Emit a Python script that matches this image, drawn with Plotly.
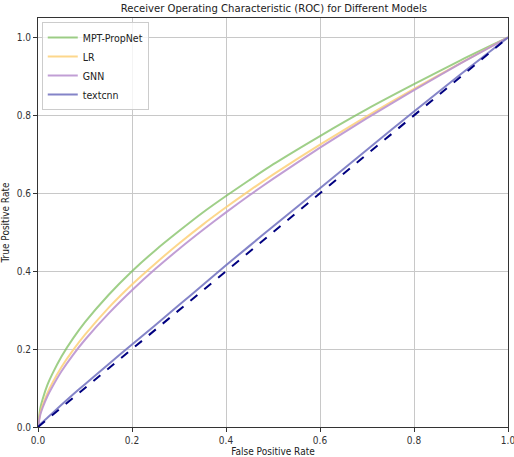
import plotly.graph_objects as go

fpr = [0, 0.005, 0.01, 0.02, 0.03, 0.05, 0.075, 0.1, 0.15, 0.2, 0.25, 0.3, 0.35,
       0.4, 0.45, 0.5, 0.6, 0.7, 0.8, 0.9, 1.0]
tpr_mpt = [0, 0.049, 0.072, 0.108, 0.135, 0.181, 0.228, 0.269, 0.339, 0.400, 0.454,
           0.503, 0.550, 0.593, 0.634, 0.674, 0.747, 0.816, 0.880, 0.942, 1.0]
tpr_lr = [0, 0.037, 0.056, 0.087, 0.112, 0.154, 0.198, 0.237, 0.306, 0.366, 0.420,
          0.471, 0.519, 0.564, 0.607, 0.648, 0.725, 0.798, 0.868, 0.935, 1.0]
tpr_gnn = [0, 0.032, 0.050, 0.079, 0.102, 0.143, 0.186, 0.224, 0.291, 0.351, 0.406,
           0.457, 0.505, 0.551, 0.595, 0.637, 0.717, 0.793, 0.865, 0.934, 1.0]
tpr_textcnn = [0, 0.007, 0.013, 0.024, 0.035, 0.057, 0.084, 0.110, 0.161, 0.212, 0.262,
               0.313, 0.364, 0.415, 0.465, 0.515, 0.613, 0.712, 0.810, 0.906, 1.0]
diag = [0, 1]

models = ["MPT-PropNet", "LR", "GNN", "textcnn"]
series = [tpr_mpt, tpr_lr, tpr_gnn, tpr_textcnn]
colors = ["rgba(127,191,96,0.75)", "rgba(253,208,120,0.85)", "rgba(186,148,208,0.9)", "rgba(110,110,190,0.85)"]

FONT = "DejaVu Sans Condensed, DejaVu Sans"

fig = go.Figure()
for name, tpr, c in zip(models, series, colors):
    fig.add_trace(go.Scatter(x=fpr, y=tpr, mode="lines", name=name,
                             line=dict(color=c, width=2, shape="spline", smoothing=0.6)))
fig.add_trace(go.Scatter(x=diag, y=diag, mode="lines", showlegend=False,
                         line=dict(color="#000080", width=2, dash="dash")))

axis_common = dict(showline=True, linecolor="#333333", linewidth=1, mirror=True,
                   ticks="outside", ticklen=4, tickcolor="#333333",
                   showgrid=True, gridcolor="#c8c8c8", gridwidth=1, zeroline=False,
                   tickfont=dict(size=10, color="#333333", family=FONT), tickformat=".1f",
                   automargin=False, ticklabeloverflow="allow")

fig.update_layout(
    width=514, height=457,
    margin=dict(l=38, r=6, t=18, b=30),
    paper_bgcolor="white", plot_bgcolor="white",
    font=dict(family=FONT, color="#222222"),
    title=dict(text="Receiver Operating Characteristic (ROC) for Different Models",
               x=0.533, xanchor="center", y=0.99, yanchor="top", font=dict(size=11.2)),
    xaxis=dict(range=[0, 1], dtick=0.2,
               title=dict(text="False Positive Rate", font=dict(size=10)),
               **axis_common),
    yaxis=dict(range=[0, 1.05], tickvals=[0, 0.2, 0.4, 0.6, 0.8, 1.0],
               title=dict(text="True Positive Rate", font=dict(size=10)),
               **axis_common),
    legend=dict(x=0.008, y=0.99, xanchor="left", yanchor="top",
                bgcolor="rgba(255,255,255,0.8)", bordercolor="#cccccc", borderwidth=1,
                font=dict(size=10.5, color="#222222"), tracegroupgap=0, itemwidth=30),
)

fig.write_html("out.html", config={"displayModeBar": False},
               post_script="document.body.style.margin='0';document.body.style.padding='0';")
